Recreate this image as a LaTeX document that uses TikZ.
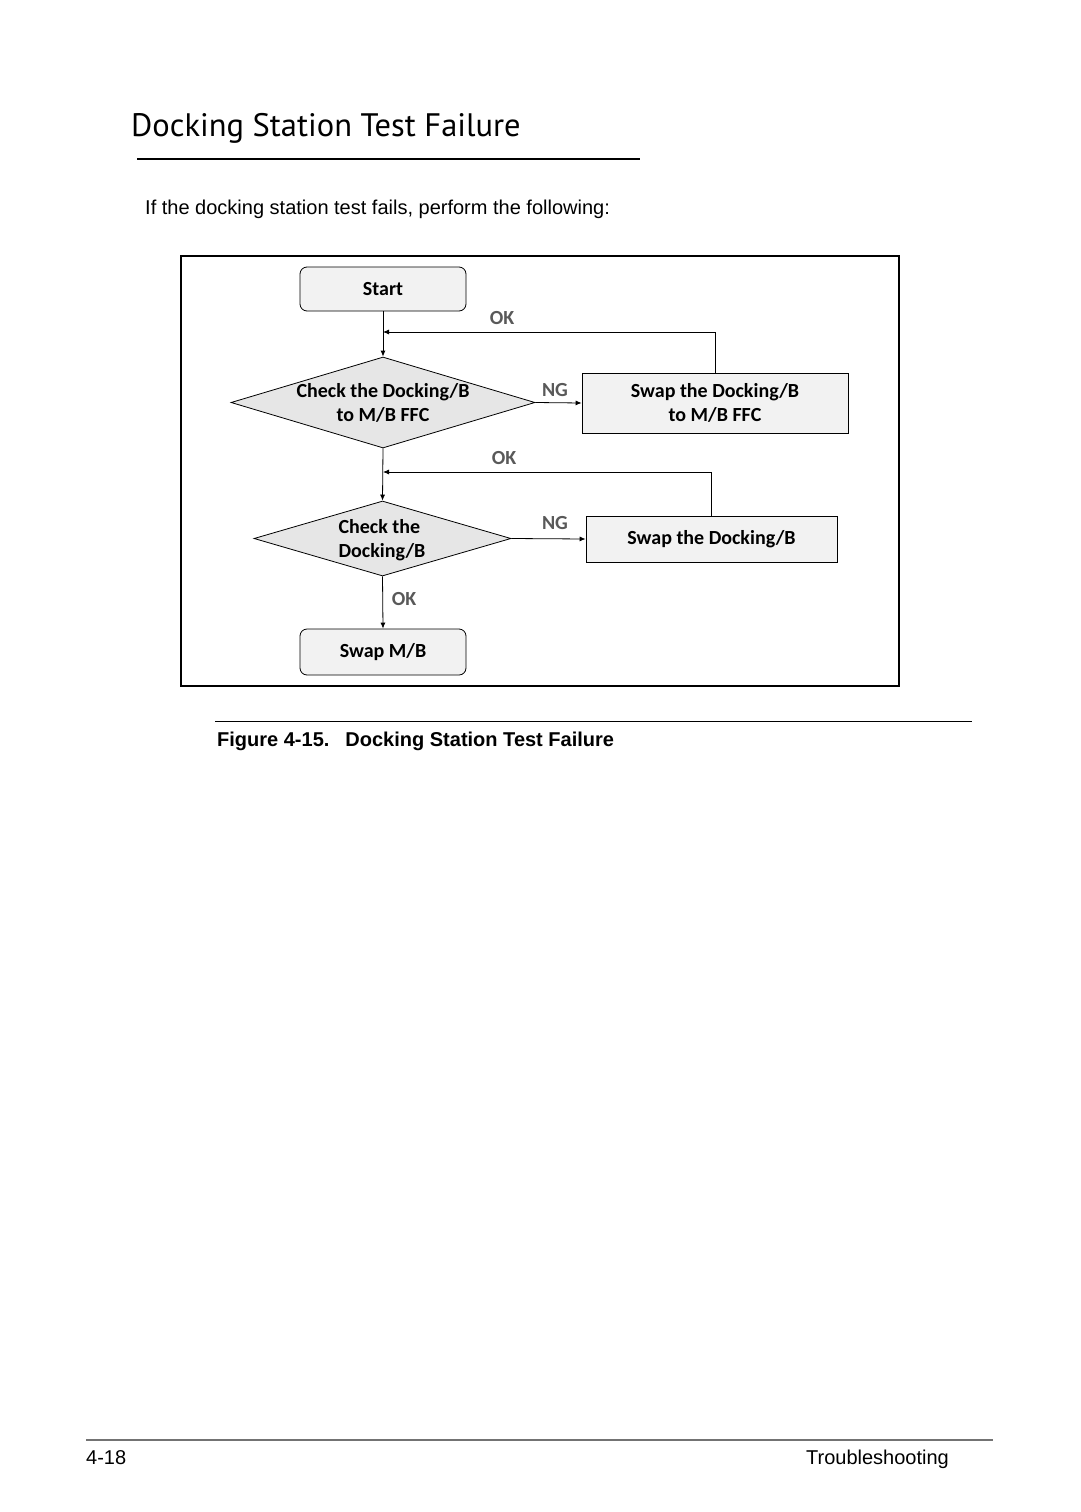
\documentclass[tikz,border=0pt]{standalone}
\usepackage{fontspec}
\setmainfont{Liberation Sans}
\newfontfamily\titlefont{PT Sans}
\newfontfamily\calfont{Carlito}
\usetikzlibrary{shapes.geometric,arrows.meta}
\definecolor{lblgray}{HTML}{595959}
\definecolor{boxfill}{HTML}{F2F2F2}
\definecolor{diafill}{HTML}{E6E6E6}
\tikzset{
  flow/.style={draw=black, line width=0.8pt, font=\calfont\bfseries\fontsize{20}{24}\selectfont, text=black},
  rbox/.style={flow, rectangle, rounded corners=7pt, fill=boxfill, inner sep=0pt},
  sbox/.style={flow, rectangle, fill=boxfill, inner sep=0pt, align=center},
  dia/.style={flow, diamond, fill=diafill, inner sep=0pt},
  dtext/.style={font=\calfont\bfseries\fontsize{20}{24.5}\selectfont, inner sep=0pt},
  lbl/.style={font=\calfont\bfseries\fontsize{20}{22}\selectfont, text=lblgray, inner sep=0pt},
  arr/.style={line width=0.8pt, -{Latex[length=6pt,width=5pt]}},
}
\begin{document}
\begin{tikzpicture}[x=1pt,y=-1pt]
\fill[white] (0,0) rectangle (1080,1512);
\useasboundingbox (0,0) rectangle (1080,1512);

% header
\node[anchor=base west, inner sep=0pt, font=\titlefont\fontsize{32.5}{38}\selectfont] (title) at (131,136) {Docking Station Test Failure};
\draw[line width=2pt] (137,159) -- (640,159);
\node[anchor=base west, inner sep=0pt, font=\fontsize{20}{24}\selectfont] (intro) at (145,214) {If the docking station test fails, perform the following:};

% frame
\draw[line width=2.5pt] (181,256) rectangle (899,686);

% nodes
\node[rbox, minimum width=166pt, minimum height=44pt] (start) at (383,289) {Start};
\node[dia, minimum width=304pt, minimum height=91pt] (d1) at (383,402.5) {};
\node[dtext, align=center] (d1t) at (383,403) {Check the Docking/B\\to M/B FFC};
\node[sbox, minimum width=266pt, minimum height=60pt] (s1) at (715,403) {Swap the Docking/B\\to M/B FFC};
\node[dia, minimum width=257pt, minimum height=75pt] (d2) at (382.5,538.5) {};
\node[dtext, align=left] (d2t) at (382,540) {Check the\\Docking/B};
\node[sbox, minimum width=251pt, minimum height=46pt] (s2) at (711.5,539) {Swap the Docking/B};
\node[rbox, minimum width=166pt, minimum height=46pt] (mb) at (383,652) {Swap M/B};

\coordinate (j1) at (383,332);
\coordinate (j2) at (383,472);

% connectors
\draw[arr] (start.south) -- (d1.north);
\draw[arr] (s1.north) |- (j1);
\draw[arr] (d1.east) -- (s1.west);
\draw[arr] (d1.south) -- (d2.north);
\draw[arr] (s2.north) |- (j2);
\draw[arr] (d2.east) -- (s2.west);
\draw[arr] (d2.south) -- (mb.north);

% labels
\node[lbl] (ok1) at (502,318) {OK};
\node[lbl] (ng1) at (555,390) {NG};
\node[lbl] (ok2) at (504,458) {OK};
\node[lbl] (ng2) at (555,523) {NG};
\node[lbl] (ok3) at (404,599) {OK};

% caption
\draw[line width=0.8pt] (215,721) -- (972,721);
\node[anchor=base west, inner sep=0pt, font=\bfseries\fontsize{20}{24}\selectfont] (cap) at (217,746) {Figure 4-15.\hspace{16pt}Docking Station Test Failure};

% footer
\draw[line width=1.5pt, black!55] (86,1440) -- (993,1440);
\node[anchor=base west, inner sep=0pt, font=\fontsize{20}{24}\selectfont] (pg) at (86,1464) {4-18};
\node[anchor=base east, inner sep=0pt, font=\fontsize{20}{24}\selectfont] (sec) at (949,1464) {Troubleshooting};
\end{tikzpicture}
\end{document}
